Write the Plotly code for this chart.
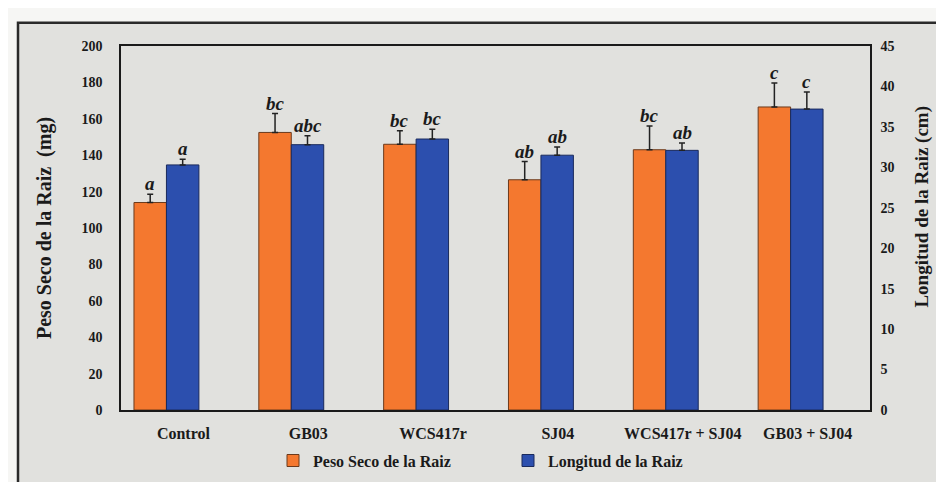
import plotly.graph_objects as go

categories = ["Control", "GB03", "WCS417r", "SJ04", "WCS417r + SJ04", "GB03 + SJ04"]
peso = [114, 152.5, 146, 126.5, 143, 166.5]
peso_err = [4.5, 10.4, 7.5, 10, 13, 13.2]
longitud = [30.3, 32.8, 33.5, 31.5, 32.1, 37.2]
long_err = [0.7, 1.1, 1.2, 1.0, 0.9, 2.1]
letters_peso = ["a", "bc", "bc", "ab", "bc", "c"]
letters_long = ["a", "abc", "bc", "ab", "ab", "c"]
left_ticks = list(range(0, 201, 20))
right_ticks = list(range(0, 46, 5))

FONT = "Liberation Serif"
ORANGE = "#f4782f"
BLUE = "#2c4fae"
BG = "#e1e1de"

W_BAR = 0.26
OFF_P = -0.396
OFF_L = OFF_P + W_BAR

fig = go.Figure()
fig.add_trace(go.Bar(
    x=categories, y=peso, name="Peso Seco de la Raiz",
    marker=dict(color=ORANGE, line=dict(color="#6b3a1c", width=1)),
    width=W_BAR, offset=OFF_P,
    error_y=dict(type="data", symmetric=False, array=peso_err,
                 arrayminus=[0] * len(peso_err), color="#222", thickness=1.5, width=3),
    yaxis="y",
))
fig.add_trace(go.Bar(
    x=categories, y=longitud, name="Longitud de la Raiz",
    marker=dict(color=BLUE, line=dict(color="#1a2a5c", width=1)),
    width=W_BAR, offset=OFF_L,
    error_y=dict(type="data", symmetric=False, array=long_err,
                 arrayminus=[0] * len(long_err), color="#222", thickness=1.5, width=3),
    yaxis="y2",
))

L, R, T, B = 113, 82, 38, 70
PW, PH = 944 - L - R, 482 - T - B

def px_x(p):
    return (p - L) / PW

def px_y(p):
    return (482 - B - p) / PH

ann = []
for i in range(len(categories)):
    ann.append(dict(x=i + OFF_P + W_BAR / 2, y=peso[i] + peso_err[i], xref="x", yref="y",
                    text=f"<b><i>{letters_peso[i]}</i></b>", showarrow=False,
                    yanchor="bottom", yshift=-2,
                    font=dict(family=FONT, size=19, color="#1a1a1a")))
    ann.append(dict(x=i + OFF_L + W_BAR / 2, y=longitud[i] + long_err[i], xref="x", yref="y2",
                    text=f"<b><i>{letters_long[i]}</i></b>", showarrow=False,
                    yanchor="bottom", yshift=-2,
                    font=dict(family=FONT, size=19, color="#1a1a1a")))
ann.append(dict(x=px_x(914), y=px_y(203), xref="paper", yref="paper",
                text="<b>Longitud de la Raiz (cm)</b>", textangle=-90, showarrow=False,
                xanchor="center", yanchor="middle",
                font=dict(family=FONT, size=19, color="#1a1a1a")))

fig.update_layout(
    width=944, height=482,
    margin=dict(l=L, r=R, t=T, b=B),
    paper_bgcolor="#f6f6f4",
    plot_bgcolor="rgba(0,0,0,0)",
    font=dict(family=FONT, color="#1a1a1a"),
    showlegend=True,
    legend=dict(orientation="h", x=px_x(265), xanchor="left", y=px_y(464), yanchor="middle",
                font=dict(family=FONT, size=16, weight="bold"),
                bgcolor="rgba(0,0,0,0)", entrywidth=190, itemwidth=30),
    xaxis=dict(showline=True, linecolor="#1a1a1a", linewidth=1.5, mirror=True,
               tickfont=dict(family=FONT, size=16, weight="bold"),
               ticks="outside", ticklen=0, ticklabelstandoff=8),
    yaxis=dict(range=[0, 200], tickvals=left_ticks, showgrid=False, zeroline=False,
               showline=True, linecolor="#1a1a1a", linewidth=1.5,
               tickfont=dict(family=FONT, size=14, weight="bold"),
               ticks="outside", ticklen=0, ticklabelstandoff=14,
               title=dict(text="Peso Seco de la Raiz  (mg)", standoff=24,
                          font=dict(family=FONT, size=20, weight="bold"))),
    yaxis2=dict(range=[0, 45], tickvals=right_ticks, overlaying="y", side="right",
                showgrid=False, zeroline=False,
                showline=True, linecolor="#1a1a1a", linewidth=1.5,
                tickfont=dict(family=FONT, size=14, weight="bold"),
                ticks="outside", ticklen=0, ticklabelstandoff=6),
    annotations=ann,
    shapes=[dict(type="rect", xref="paper", yref="paper", layer="below",
                 x0=px_x(10), x1=px_x(960), y0=px_y(500), y1=px_y(14),
                 fillcolor=BG, line=dict(color="#2a2a2a", width=2.5))],
)

fig.write_html("out.html")
